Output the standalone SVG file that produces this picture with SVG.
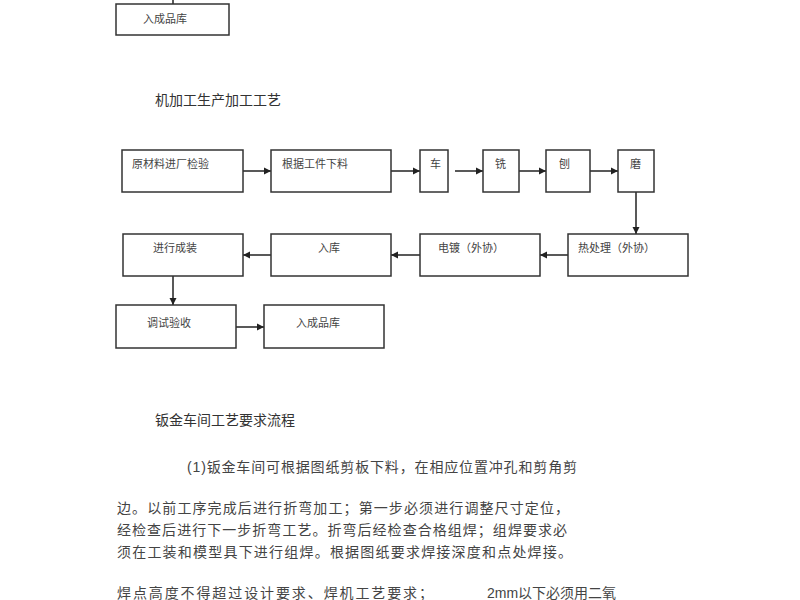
<svg xmlns="http://www.w3.org/2000/svg" width="800" height="600" viewBox="0 0 800 600">
<style>
.b{fill:#fff;stroke:#333;stroke-width:1.5}
.t{font-family:"Liberation Serif","Noto Sans CJK SC",serif;font-size:11px;fill:#444}
.h{font-family:"Liberation Serif","Noto Sans CJK SC",serif;font-size:14px;fill:#333}
.p{font-family:"Liberation Sans","Noto Sans CJK SC",sans-serif;font-size:14px;fill:#444}
.c{stroke:#222;stroke-width:1.5;fill:none;marker-end:url(#a)}
</style>
<defs><marker id="a" markerWidth="8" markerHeight="8" refX="7" refY="4" orient="auto" markerUnits="userSpaceOnUse"><path d="M0,0.5L7,4L0,7.5z" fill="#222"/></marker></defs>
<rect width="800" height="600" fill="#fff"/>
<g id="connectors">
<line class="c" x1="173" y1="0" x2="173" y2="4" style="marker-end:none"/>
<line class="c" x1="243" y1="171" x2="271" y2="171"/>
<line class="c" x1="391" y1="171" x2="420" y2="171"/>
<line class="c" x1="455" y1="171" x2="483" y2="171"/>
<line class="c" x1="519" y1="171" x2="546" y2="171"/>
<line class="c" x1="590" y1="171" x2="618" y2="171"/>
<line class="c" x1="636" y1="192" x2="636" y2="234"/>
<line class="c" x1="568" y1="255" x2="540" y2="255"/>
<line class="c" x1="420" y1="255" x2="391" y2="255"/>
<line class="c" x1="271" y1="255" x2="243" y2="255"/>
<line class="c" x1="173" y1="276" x2="173" y2="305"/>
<line class="c" x1="236" y1="327" x2="264" y2="327"/>
</g>
<g id="n0"><rect class="b" x="116" y="4" width="113" height="31"/><text class="t" x="143" y="23">入成品库</text></g>
<text class="h" x="155" y="105">机加工生产加工工艺</text>
<g id="n1"><rect class="b" x="122" y="150" width="121" height="42"/><text class="t" x="132" y="168">原材料进厂检验</text></g>
<g id="n2"><rect class="b" x="271" y="150" width="120" height="42"/><text class="t" x="282" y="168">根据工件下料</text></g>
<g id="n3"><rect class="b" x="420" y="150" width="28" height="42"/><text class="t" x="430" y="168">车</text></g>
<g id="n4"><rect class="b" x="483" y="150" width="36" height="42"/><text class="t" x="495" y="168">铣</text></g>
<g id="n5"><rect class="b" x="546" y="150" width="44" height="42"/><text class="t" x="559" y="168">刨</text></g>
<g id="n6"><rect class="b" x="618" y="150" width="36" height="42"/><text class="t" x="630" y="168">磨</text></g>
<g id="n7"><rect class="b" x="568" y="234" width="120" height="42"/><text class="t" x="578" y="252">热处理（外协）</text></g>
<g id="n8"><rect class="b" x="420" y="234" width="120" height="42"/><text class="t" x="438" y="252">电镀（外协）</text></g>
<g id="n9"><rect class="b" x="271" y="234" width="120" height="42"/><text class="t" x="318" y="252">入库</text></g>
<g id="n10"><rect class="b" x="123" y="234" width="120" height="42"/><text class="t" x="153" y="252">进行成装</text></g>
<g id="n11"><rect class="b" x="116" y="305" width="120" height="43"/><text class="t" x="147" y="327">调试验收</text></g>
<g id="n12"><rect class="b" x="264" y="305" width="120" height="43"/><text class="t" x="296" y="327">入成品库</text></g>
<text class="h" x="155" y="425">钣金车间工艺要求流程</text>
<text class="p" x="187" y="472" textLength="390">(1)钣金车间可根据图纸剪板下料，在相应位置冲孔和剪角剪</text>
<text class="p" x="117" y="513" textLength="452">边。以前工序完成后进行折弯加工；第一步必须进行调整尺寸定位，</text>
<text class="p" x="117" y="535" textLength="450">经检查后进行下一步折弯工艺。折弯后经检查合格组焊；组焊要求必</text>
<text class="p" x="117" y="557" textLength="455">须在工装和模型具下进行组焊。根据图纸要求焊接深度和点处焊接。</text>
<text class="p" x="117" y="598" textLength="316">焊点高度不得超过设计要求、焊机工艺要求；</text>
<text class="p" x="487" y="598">2mm以下必须用二氧</text>
</svg>
